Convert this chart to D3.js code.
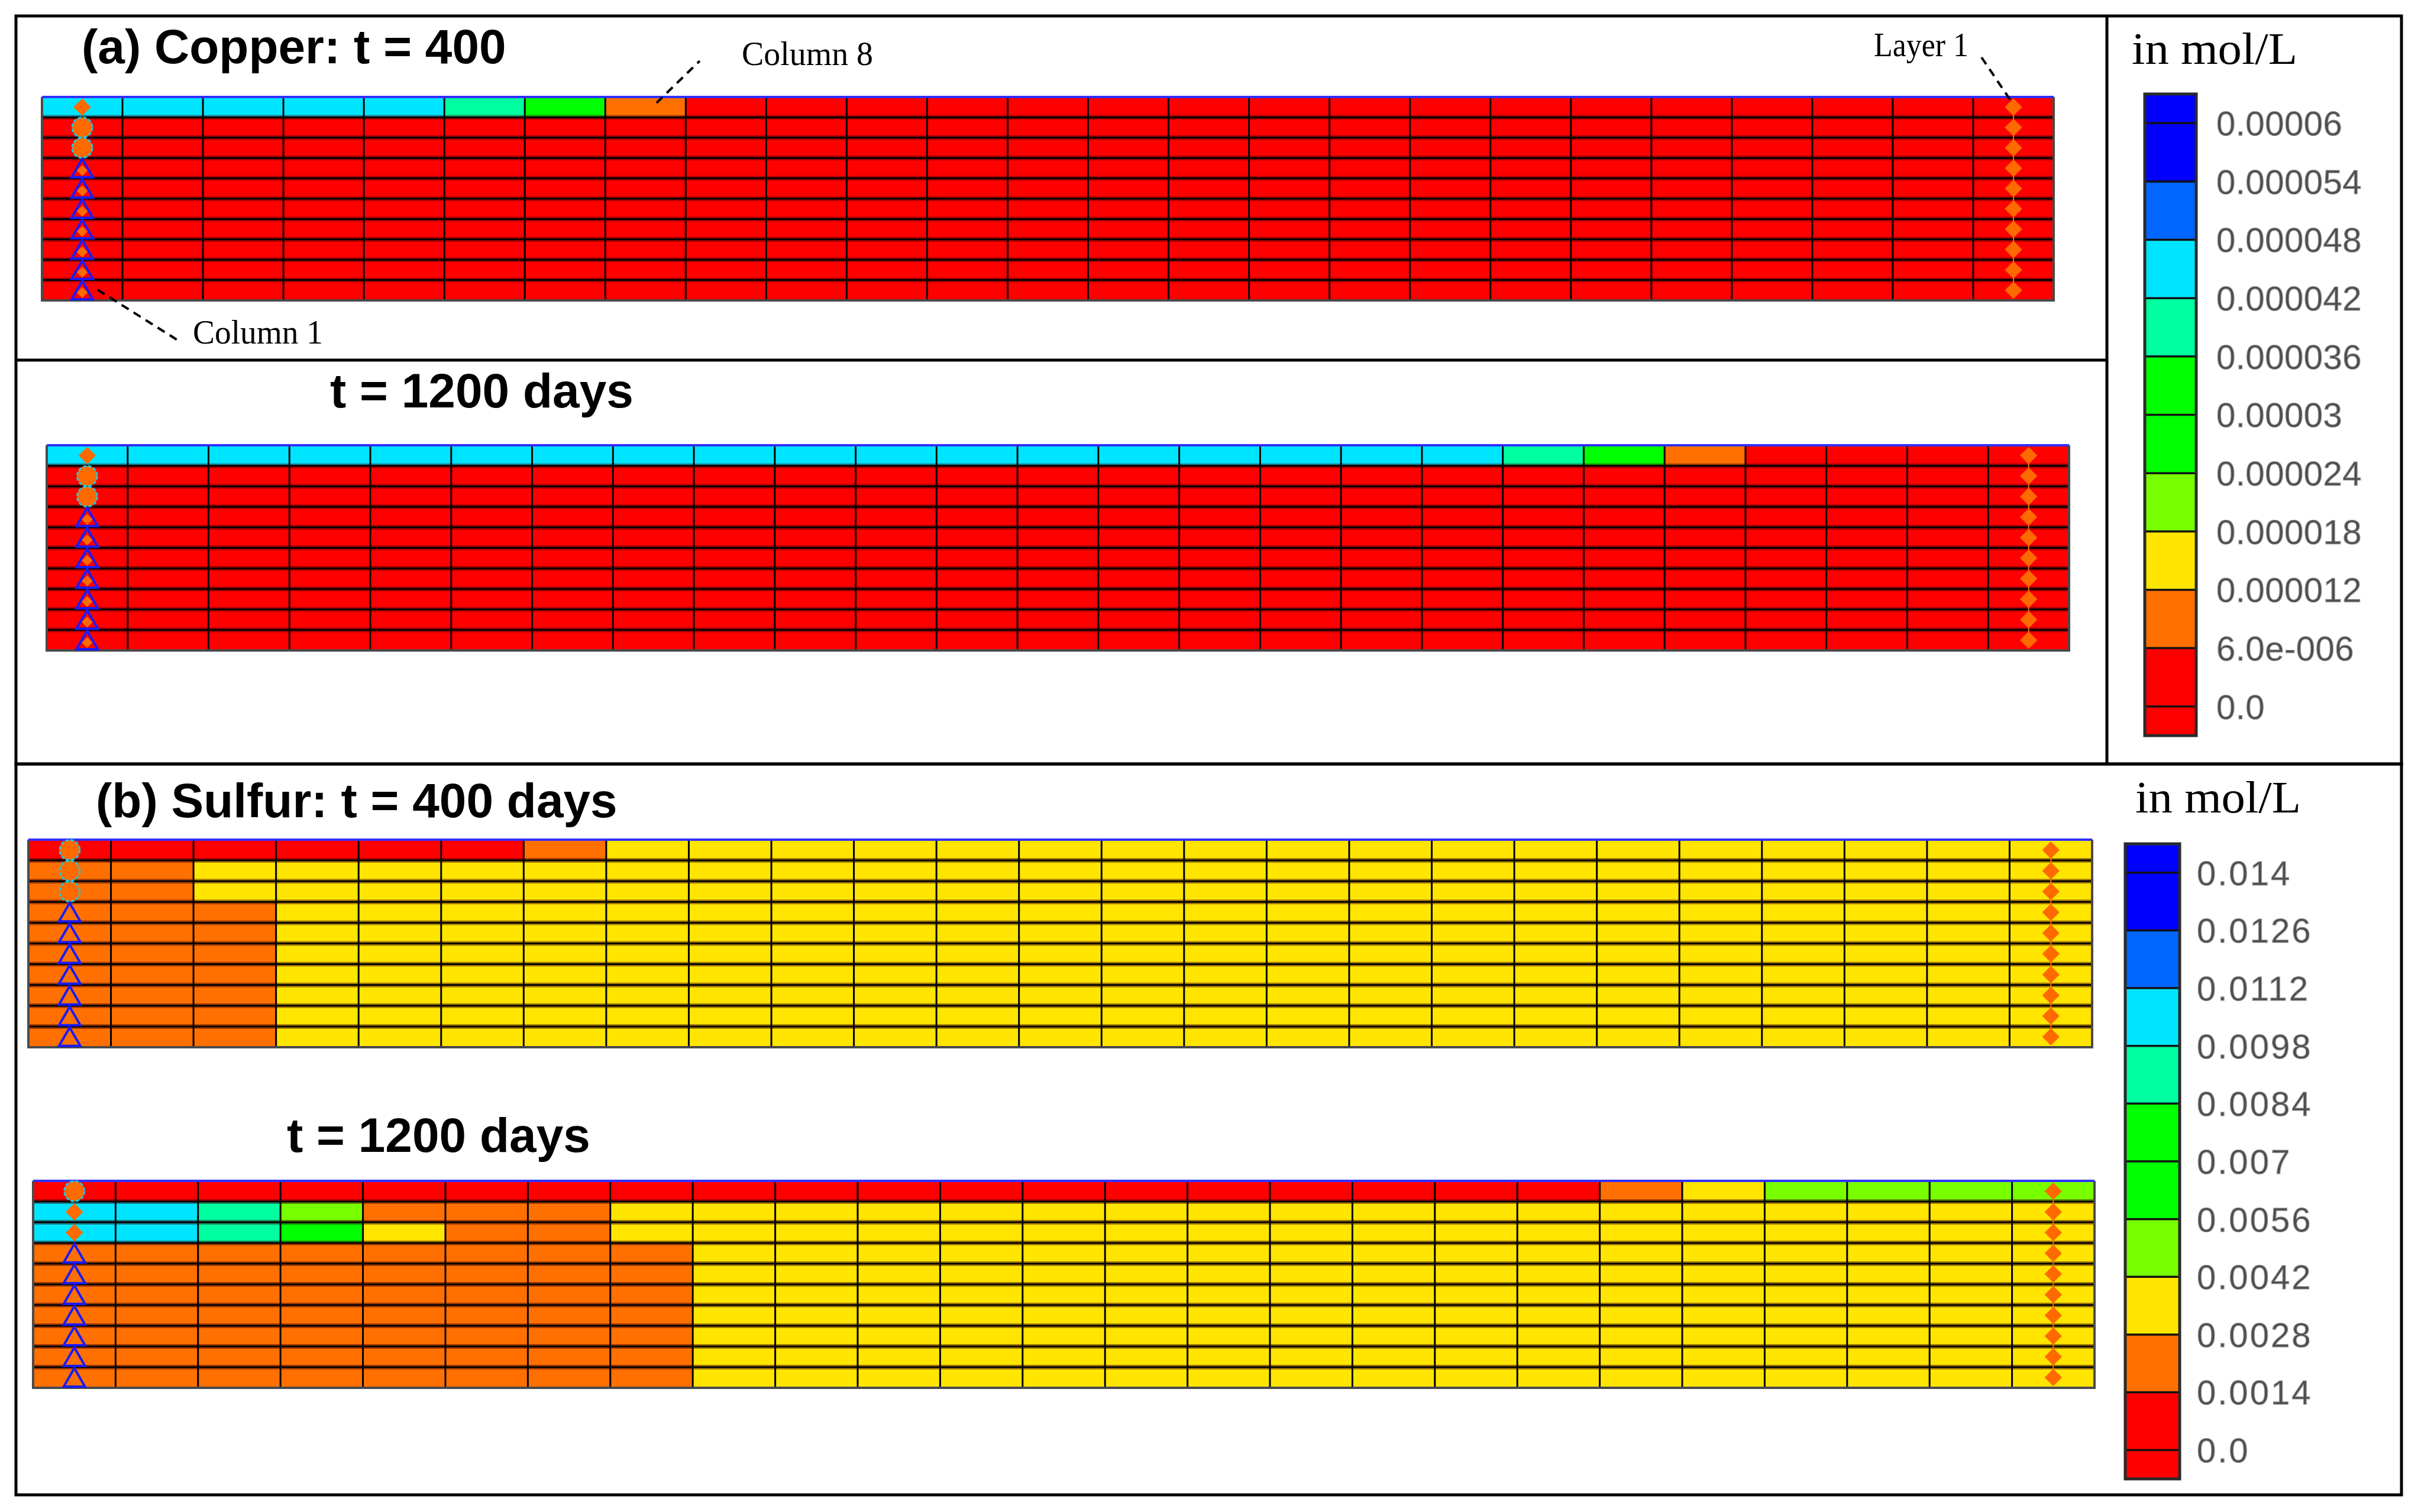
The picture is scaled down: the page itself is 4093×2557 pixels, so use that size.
<!DOCTYPE html>
<html>
<head>
<meta charset="utf-8">
<script src="https://cdn.jsdelivr.net/npm/d3@7"></script>
<style>
body { margin: 0; background: #fff; }
</style>
</head>
<body>
<div id="chart"></div>
<script>
// colour classes of the legend, lowest band first
var bandColors = ["#ff0000", "#ff7000", "#ffe500", "#77ff00", "#00ff00", "#00ff00", "#00ffa0", "#00e5ff", "#0066ff", "#0000ff"];

var copperTicks = ["0.0", "6.0e-006", "0.000012", "0.000018", "0.000024", "0.00003", "0.000036", "0.000042", "0.000048", "0.000054", "0.00006"];
var sulfurTicks = ["0.0", "0.0014", "0.0028", "0.0042", "0.0056", "0.007", "0.0084", "0.0098", "0.0112", "0.0126", "0.014"];

// one string per layer (top first), one class digit per column, grouped by 5
var copper400 = [
    "77777 65100 00000 00000 00000",
    "00000 00000 00000 00000 00000",
    "00000 00000 00000 00000 00000",
    "00000 00000 00000 00000 00000",
    "00000 00000 00000 00000 00000",
    "00000 00000 00000 00000 00000",
    "00000 00000 00000 00000 00000",
    "00000 00000 00000 00000 00000",
    "00000 00000 00000 00000 00000",
    "00000 00000 00000 00000 00000"
];
var copper1200 = [
    "77777 77777 77777 77765 10000",
    "00000 00000 00000 00000 00000",
    "00000 00000 00000 00000 00000",
    "00000 00000 00000 00000 00000",
    "00000 00000 00000 00000 00000",
    "00000 00000 00000 00000 00000",
    "00000 00000 00000 00000 00000",
    "00000 00000 00000 00000 00000",
    "00000 00000 00000 00000 00000",
    "00000 00000 00000 00000 00000"
];
var sulfur400 = [
    "00000 01222 22222 22222 22222",
    "11222 22222 22222 22222 22222",
    "11222 22222 22222 22222 22222",
    "11122 22222 22222 22222 22222",
    "11122 22222 22222 22222 22222",
    "11122 22222 22222 22222 22222",
    "11122 22222 22222 22222 22222",
    "11122 22222 22222 22222 22222",
    "11122 22222 22222 22222 22222",
    "11122 22222 22222 22222 22222"
];
var sulfur1200 = [
    "00000 00000 00000 00001 23333",
    "77631 11222 22222 22222 22222",
    "77642 11222 22222 22222 22222",
    "11111 11122 22222 22222 22222",
    "11111 11122 22222 22222 22222",
    "11111 11122 22222 22222 22222",
    "11111 11122 22222 22222 22222",
    "11111 11122 22222 22222 22222",
    "11111 11122 22222 22222 22222",
    "11111 11122 22222 22222 22222"
];

// observation markers in column 1 (D diamond, C circle, T triangle, F triangle with diamond)
var copperWells = ["D", "C", "C", "F", "F", "F", "F", "F", "F", "F"];
var sulfur400Wells = ["C", "C", "C", "T", "T", "T", "T", "T", "T", "T"];
var sulfur1200Wells = ["C", "D", "D", "T", "T", "T", "T", "T", "T", "T"];

var svgWidth = 4093;
var svgHeight = 2557;

var svg = d3.select("#chart")
    .append("svg")
    .attr("width", svgWidth)
    .attr("height", svgHeight)
    .style("background", "#fff");

var color = d3.scaleOrdinal()
    .domain(d3.range(10))
    .range(bandColors);

var sansBold = "'Liberation Sans', Arial, sans-serif";
var serif = "'Liberation Serif', 'Times New Roman', serif";

function drawGrid(g) {
    var rows = g.cells.map(function(s) { return s.replace(/ /g, "").split("").map(Number); });
    var nCols = rows[0].length;

    var x = d3.scaleBand().domain(d3.range(nCols)).range([g.x0, g.x1]);
    var y = d3.scaleBand().domain(d3.range(rows.length)).range([g.y0, g.y1]);

    var grp = svg.append("g");

    grp.selectAll("g.row")
        .data(rows)
        .enter()
        .append("g")
        .each(function(row, r) {
            d3.select(this).selectAll("rect")
                .data(row)
                .enter()
                .append("rect")
                .attr("x", (d, c) => x(c))
                .attr("y", y(r))
                .attr("width", x.bandwidth() + 0.5)
                .attr("height", y.bandwidth() + 0.5)
                .attr("fill", d => color(d));
        });

    // soft dark band under each layer line, then the line itself
    grp.selectAll("line.hs")
        .data(d3.range(1, rows.length))
        .enter()
        .append("line")
        .attr("x1", g.x0).attr("x2", g.x1)
        .attr("y1", d => y(d)).attr("y2", d => y(d))
        .attr("stroke", "rgba(60,0,0,0.45)")
        .attr("stroke-width", 8);

    grp.selectAll("line.h")
        .data(d3.range(1, rows.length))
        .enter()
        .append("line")
        .attr("x1", g.x0).attr("x2", g.x1)
        .attr("y1", d => y(d)).attr("y2", d => y(d))
        .attr("stroke", "#000")
        .attr("stroke-width", 3);

    grp.selectAll("line.v")
        .data(d3.range(1, nCols))
        .enter()
        .append("line")
        .attr("x1", d => x(d)).attr("x2", d => x(d))
        .attr("y1", g.y0).attr("y2", g.y1)
        .attr("stroke", "#000")
        .attr("stroke-width", 3);

    // frame
    grp.append("path")
        .attr("d", `M${g.x0},${g.y0}V${g.y1}H${g.x1}V${g.y0}`)
        .attr("fill", "none")
        .attr("stroke", "#4a4a4a")
        .attr("stroke-width", 4);
    grp.append("line")
        .attr("x1", g.x0).attr("x2", g.x1)
        .attr("y1", g.y0).attr("y2", g.y0)
        .attr("stroke", "#3030ff")
        .attr("stroke-width", 4);

    var cx0 = x(0) + x.bandwidth() / 2;
    var cxN = x(nCols - 1) + x.bandwidth() / 2;
    var cy = r => y(r) + y.bandwidth() / 2;

    var diamond = d3.symbol().type(d3.symbolSquare).size(430);
    var smallDiamond = d3.symbol().type(d3.symbolSquare).size(170);
    var triangle = d3.symbol().type(d3.symbolTriangle).size(560);

    // layer 1 column (right end)
    grp.append("line")
        .attr("x1", cxN).attr("x2", cxN)
        .attr("y1", cy(0)).attr("y2", cy(rows.length - 1))
        .attr("stroke", "#ff6a00")
        .attr("stroke-width", 2);
    grp.selectAll("path.layer")
        .data(rows)
        .enter()
        .append("path")
        .attr("d", diamond)
        .attr("transform", (d, r) => `translate(${cxN},${cy(r)}) rotate(45)`)
        .attr("fill", "#ff6a00");

    // column 1 markers
    g.wells.forEach(function(m, r) {
        if (m === "D") {
            grp.append("path")
                .attr("d", diamond)
                .attr("transform", `translate(${cx0},${cy(r)}) rotate(45)`)
                .attr("fill", "#ff6a00");
        } else if (m === "C") {
            grp.append("circle")
                .attr("cx", cx0).attr("cy", cy(r))
                .attr("r", 17)
                .attr("fill", "#ff6a00")
                .attr("stroke", "#1ec8dc")
                .attr("stroke-width", 3)
                .attr("stroke-dasharray", "6,3");
        } else {
            if (m === "F") {
                grp.append("path")
                    .attr("d", smallDiamond)
                    .attr("transform", `translate(${cx0},${cy(r) + 4}) rotate(45)`)
                    .attr("fill", "#ff6a00");
            }
            grp.append("path")
                .attr("d", triangle)
                .attr("transform", `translate(${cx0},${cy(r) + 5})`)
                .attr("fill", "none")
                .attr("stroke", "#1a1aff")
                .attr("stroke-width", 4);
        }
    });
}

function drawLegend(l) {
    var y = d3.scaleLinear().domain([-0.5, 10.5]).range([l.y1, l.y0]);
    var edges = [-0.5].concat(d3.range(0, 11), [10.5]);
    var grp = svg.append("g");

    grp.selectAll("rect.band")
        .data(d3.range(edges.length - 1))
        .enter()
        .append("rect")
        .attr("x", l.x0)
        .attr("width", l.x1 - l.x0)
        .attr("y", i => y(edges[i + 1]))
        .attr("height", i => y(edges[i]) - y(edges[i + 1]))
        .attr("fill", i => bandColors[Math.max(0, Math.min(9, i - 1))]);

    grp.selectAll("line.sep")
        .data(d3.range(0, 11))
        .enter()
        .append("line")
        .attr("x1", l.x0).attr("x2", l.x1)
        .attr("y1", d => y(d)).attr("y2", d => y(d))
        .attr("stroke", "#111")
        .attr("stroke-width", 3.5);

    grp.append("rect")
        .attr("x", l.x0).attr("y", l.y0)
        .attr("width", l.x1 - l.x0).attr("height", l.y1 - l.y0)
        .attr("fill", "none")
        .attr("stroke", "#2a2a2a")
        .attr("stroke-width", 5);

    grp.selectAll("text.tick")
        .data(l.ticks)
        .enter()
        .append("text")
        .attr("x", l.labelX)
        .attr("y", (d, i) => y(i))
        .attr("dy", "0.36em")
        .attr("font-family", "'Liberation Sans', Arial, sans-serif")
        .attr("font-size", 58)
        .attr("letter-spacing", l.spacing)
        .attr("fill", "#4d4d4d")
        .attr("stroke", "#9a9a9a")
        .attr("stroke-width", 1.2)
        .text(d => d);

    grp.append("text")
        .attr("x", l.titleX)
        .attr("y", l.titleY)
        .attr("font-family", serif)
        .attr("font-size", 76)
        .attr("textLength", 280)
        .attr("lengthAdjust", "spacingAndGlyphs")
        .text("in mol/L");
}

function title(text, x, y) {
    svg.append("text")
        .attr("x", x).attr("y", y)
        .attr("font-family", sansBold)
        .attr("font-weight", "bold")
        .attr("font-size", 82)
        .text(text);
}

function note(text, x, y, len, line) {
    svg.append("text")
        .attr("x", x).attr("y", y)
        .attr("font-family", serif)
        .attr("font-size", 56)
        .attr("textLength", len)
        .attr("lengthAdjust", "spacingAndGlyphs")
        .text(text);
    svg.append("line")
        .attr("x1", line[0]).attr("y1", line[1])
        .attr("x2", line[2]).attr("y2", line[3])
        .attr("stroke", "#000")
        .attr("stroke-width", 4)
        .attr("stroke-dasharray", "14,10");
}

// panel frames
var frame = svg.append("g")
    .attr("fill", "none")
    .attr("stroke", "#000")
    .attr("stroke-width", 5);
frame.append("rect").attr("x", 27).attr("y", 27).attr("width", 4033).attr("height", 1265);
frame.append("rect").attr("x", 27).attr("y", 1292).attr("width", 4033).attr("height", 1236);
frame.append("line").attr("x1", 3562).attr("x2", 3562).attr("y1", 27).attr("y2", 1292);
frame.append("line").attr("x1", 27).attr("x2", 3562).attr("y1", 609).attr("y2", 609);

drawGrid({x0: 71, x1: 3472, y0: 164, y1: 508, cells: copper400, wells: copperWells});
drawGrid({x0: 79, x1: 3498, y0: 753, y1: 1100, cells: copper1200, wells: copperWells});
drawGrid({x0: 48, x1: 3537, y0: 1420, y1: 1771, cells: sulfur400, wells: sulfur400Wells});
drawGrid({x0: 56, x1: 3541, y0: 1997, y1: 2347, cells: sulfur1200, wells: sulfur1200Wells});

drawLegend({x0: 3626, x1: 3713, y0: 159, y1: 1244, ticks: copperTicks, labelX: 3747, spacing: 0.5,
    titleX: 3604, titleY: 108});
drawLegend({x0: 3593, x1: 3685, y0: 1427, y1: 2501, ticks: sulfurTicks, labelX: 3714, spacing: 3,
    titleX: 3610, titleY: 1374});

title("(a) Copper: t = 400", 138, 107);
title("t = 1200 days", 558, 689);
title("(b) Sulfur: t = 400 days", 162, 1382);
title("t = 1200 days", 485, 1948);

note("Column 8", 1254, 110, 222, [1110, 174, 1183, 103]);
note("Column 1", 326, 581, 220, [165, 490, 303, 577]);
note("Layer 1", 3168, 95, 160, [3350, 97, 3402, 174]);
</script>
</body>
</html>
